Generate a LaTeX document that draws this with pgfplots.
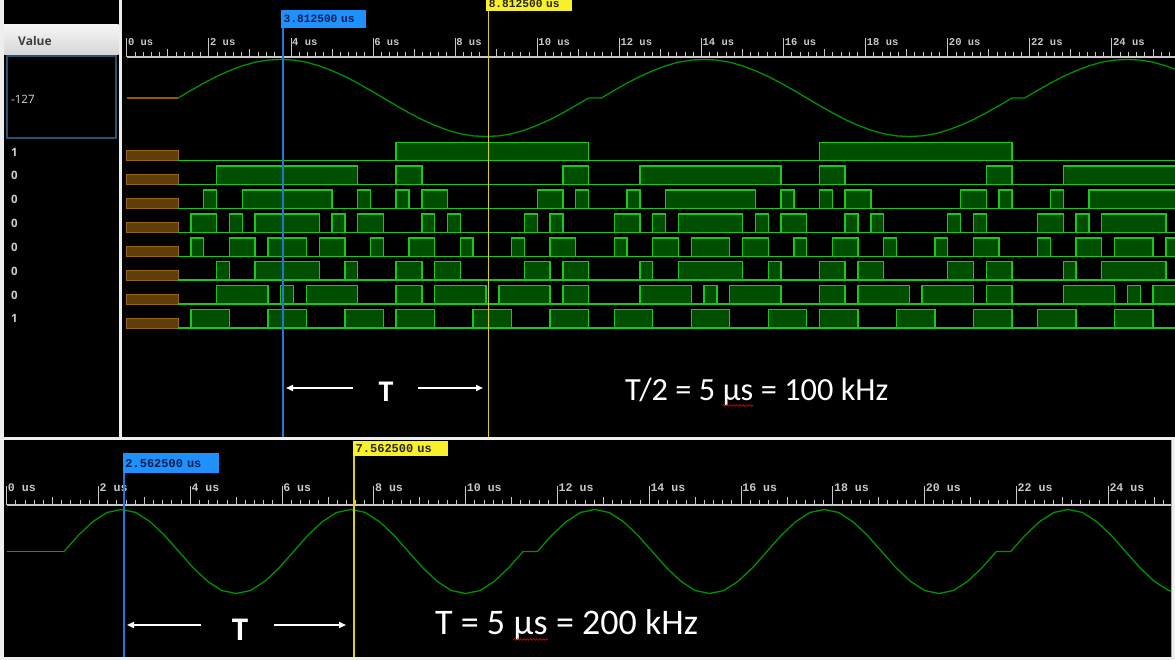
\documentclass[border=0pt]{standalone}
\usepackage{pgfplots}
\pgfplotsset{compat=1.18}
\usepackage{pgfplotstable}
\usepackage{fontspec}
\usetikzlibrary{arrows.meta,decorations.pathmorphing}
\setmainfont{Open Sans}
\newfontfamily\mono{Liberation Mono}
\newfontfamily\slide{Carlito}

\definecolor{traceedge}{RGB}{25,200,25}
\definecolor{tracefill}{RGB}{0,78,0}
\definecolor{analog}{RGB}{0,145,0}
\definecolor{unkfill}{RGB}{95,62,8}
\definecolor{unkedge}{RGB}{150,100,25}
\definecolor{unkline}{RGB}{150,90,10}
\definecolor{curblue}{RGB}{30,120,215}
\definecolor{boxblue}{RGB}{30,145,255}
\definecolor{curyellow}{RGB}{220,210,10}
\definecolor{boxyellow}{RGB}{248,240,40}
\definecolor{ruler}{RGB}{200,200,200}
\definecolor{frame}{RGB}{238,238,238}
\definecolor{valbox}{RGB}{45,80,110}
\definecolor{navytext}{RGB}{0,30,80}

% 8-bit samples of the 100 kHz sine (3.2 MS/s, one sample every 0.3125 us)
% v = signed value, b7..b0 = two's complement bits
\pgfplotstableread{
n v b7 b6 b5 b4 b3 b2 b1 b0
4 0 0 0 0 0 0 0 0 0
5 25 0 0 0 1 1 0 0 1
6 49 0 0 1 1 0 0 0 1
7 71 0 1 0 0 0 1 1 1
8 90 0 1 0 1 1 0 1 0
9 106 0 1 1 0 1 0 1 0
10 118 0 1 1 1 0 1 1 0
11 125 0 1 1 1 1 1 0 1
12 127 0 1 1 1 1 1 1 1
13 125 0 1 1 1 1 1 0 1
14 118 0 1 1 1 0 1 1 0
15 106 0 1 1 0 1 0 1 0
16 90 0 1 0 1 1 0 1 0
17 71 0 1 0 0 0 1 1 1
18 49 0 0 1 1 0 0 0 1
19 25 0 0 0 1 1 0 0 1
20 0 0 0 0 0 0 0 0 0
21 -25 1 1 1 0 0 1 1 1
22 -49 1 1 0 0 1 1 1 1
23 -71 1 0 1 1 1 0 0 1
24 -90 1 0 1 0 0 1 1 0
25 -106 1 0 0 1 0 1 1 0
26 -118 1 0 0 0 1 0 1 0
27 -125 1 0 0 0 0 0 1 1
28 -127 1 0 0 0 0 0 0 1
29 -125 1 0 0 0 0 0 1 1
30 -118 1 0 0 0 1 0 1 0
31 -106 1 0 0 1 0 1 1 0
32 -90 1 0 1 0 0 1 1 0
33 -71 1 0 1 1 1 0 0 1
34 -49 1 1 0 0 1 1 1 1
35 -25 1 1 1 0 0 1 1 1
36 0 0 0 0 0 0 0 0 0
37 0 0 0 0 0 0 0 0 0
38 25 0 0 0 1 1 0 0 1
39 49 0 0 1 1 0 0 0 1
40 71 0 1 0 0 0 1 1 1
41 90 0 1 0 1 1 0 1 0
42 106 0 1 1 0 1 0 1 0
43 118 0 1 1 1 0 1 1 0
44 125 0 1 1 1 1 1 0 1
45 127 0 1 1 1 1 1 1 1
46 125 0 1 1 1 1 1 0 1
47 118 0 1 1 1 0 1 1 0
48 106 0 1 1 0 1 0 1 0
49 90 0 1 0 1 1 0 1 0
50 71 0 1 0 0 0 1 1 1
51 49 0 0 1 1 0 0 0 1
52 25 0 0 0 1 1 0 0 1
53 0 0 0 0 0 0 0 0 0
54 -25 1 1 1 0 0 1 1 1
55 -49 1 1 0 0 1 1 1 1
56 -71 1 0 1 1 1 0 0 1
57 -90 1 0 1 0 0 1 1 0
58 -106 1 0 0 1 0 1 1 0
59 -118 1 0 0 0 1 0 1 0
60 -125 1 0 0 0 0 0 1 1
61 -127 1 0 0 0 0 0 0 1
62 -125 1 0 0 0 0 0 1 1
63 -118 1 0 0 0 1 0 1 0
64 -106 1 0 0 1 0 1 1 0
65 -90 1 0 1 0 0 1 1 0
66 -71 1 0 1 1 1 0 0 1
67 -49 1 1 0 0 1 1 1 1
68 -25 1 1 1 0 0 1 1 1
69 0 0 0 0 0 0 0 0 0
70 0 0 0 0 0 0 0 0 0
71 25 0 0 0 1 1 0 0 1
72 49 0 0 1 1 0 0 0 1
73 71 0 1 0 0 0 1 1 1
74 90 0 1 0 1 1 0 1 0
75 106 0 1 1 0 1 0 1 0
76 118 0 1 1 1 0 1 1 0
77 125 0 1 1 1 1 1 0 1
78 127 0 1 1 1 1 1 1 1
79 125 0 1 1 1 1 1 0 1
80 118 0 1 1 1 0 1 1 0
81 106 0 1 1 0 1 0 1 0
82 90 0 1 0 1 1 0 1 0
}\topdata

% 200 kHz capture, same sample clock
\pgfplotstableread{
n v
4 0
5 49
6 90
7 118
8 127
9 118
10 90
11 49
12 0
13 -49
14 -90
15 -118
16 -127
17 -118
18 -90
19 -49
20 0
21 49
22 90
23 118
24 127
25 118
26 90
27 49
28 0
29 -49
30 -90
31 -118
32 -127
33 -118
34 -90
35 -49
36 0
37 0
38 49
39 90
40 118
41 127
42 118
43 90
44 49
45 0
46 -49
47 -90
48 -118
49 -127
50 -118
51 -90
52 -49
53 0
54 49
55 90
56 118
57 127
58 118
59 90
60 49
61 0
62 -49
63 -90
64 -118
65 -127
66 -118
67 -90
68 -49
69 0
70 0
71 49
72 90
73 118
74 127
75 118
76 90
77 49
78 0
79 -49
80 -90
81 -118
82 -127
}\botdata

\pgfplotsset{
  trace/.style={scale only axis, hide axis, clip=false, width=1053pt, height=18.4pt,
    xmin=-0.117, xmax=25.535, ymin=0, ymax=1, anchor=south west},
  bit/.style={const plot, draw=traceedge, fill=tracefill, line width=1.4pt, line join=miter},
  unk/.style={fill=unkfill, draw=unkedge, line width=0.9pt},
  rulerax/.style={scale only axis, anchor=south west, height=30pt, ymin=0, ymax=1,
    axis x line*=bottom, axis y line=none,
    x axis line style={draw=ruler, line width=1.2pt},
    tick align=inside, tick style={draw=ruler, line width=1pt},
    major tick length=19pt,
    xtick={0,2,...,24},
    xticklabels={0 us,2 us,4 us,6 us,8 us,10 us,12 us,14 us,16 us,18 us,20 us,22 us,24 us},
    minor xtick={0,0.2,...,25.6},
    extra x ticks={1,3,...,25}, extra x tick labels={},
    xticklabel style={anchor=base west, inner sep=0.6pt, xshift=0.4pt, text=ruler}},
}
\tikzset{cursorbox/.style={inner xsep=2.5pt, inner ysep=0pt, align=left}}

\newcommand\slidefont[1]{\slide\fontsize{#1}{#1}\selectfont}
\newcommand\rulerfont[1]{\mono\bfseries\fontsize{#1}{#1}\selectfont}

\begin{document}
\begin{tikzpicture}[x=1pt,y=1pt]
\useasboundingbox (0,0) rectangle (1175,660);
% screen frames
\fill[frame] (0,0) rectangle (1175,660);
\fill[black] (4,222.5) rectangle (1175,660);
\fill[black] (4,3) rectangle (1171,219.5);
\draw[black!35, line width=0.8pt] (1171.4,3) -- (1171.4,219.5);
\fill[frame] (118.5,222.5) rectangle (122,660);

% value column
\shade[top color=white!96!black, bottom color=white!84!black] (4,605) rectangle (118.5,635);
\node[anchor=base west, inner sep=0, font=\bfseries\fontsize{12}{14}\selectfont, text=black!76]
  at (18,614.5) {Value};
\draw[valbox, line width=1.2pt] (7,522) rectangle (116,604);
\node[anchor=base west, inner sep=0, font=\fontsize{11.5}{13}\selectfont, text=white!85!black]
  at (11,556.7) {-127};
\foreach \v/\yy in {1/503.5, 0/480, 0/456.5, 0/432.5, 0/408.5, 0/384.5, 0/360.5, 1/337.5}
  \node[anchor=base west, inner sep=0, font=\bfseries\fontsize{11.5}{13}\selectfont, text=white!80!black]
    at (11,\yy) {\v};

% top time ruler
\begin{axis}[rulerax, at={(126.8pt,603pt)}, width=1048.2pt, xmin=0, xmax=25.535,
  minor tick length=4.5pt, extra x tick style={major tick length=7.5pt},
  xticklabel style={yshift=11.5pt, font=\rulerfont{10.5}}]
  \addplot[draw=none] coordinates {(0,0)};
\end{axis}

% analog view of the samples (100 kHz)
\begin{axis}[scale only axis, hide axis, at={(122pt,504pt)}, anchor=south west,
  width=1053pt, height=116pt, xmin=-0.117, xmax=25.535, ymin=-191.3, ymax=191.3]
  \addplot[unkline, line width=1.2pt] coordinates {(0,0) (1.25,0)};
  \addplot[analog, line width=1.3pt, line join=round] table[x expr=\thisrow{n}*0.3125, y=v] {\topdata};
\end{axis}

% bit lanes, MSB on top
\begin{axis}[trace, at={(122pt,499.3pt)}]
  \addplot[unk] coordinates {(0,0.53) (1.25,0.53)} \closedcycle;
  \addplot[bit] table[x expr=\thisrow{n}*0.3125, y=b7] {\topdata} \closedcycle;
\end{axis}
\begin{axis}[trace, at={(122pt,475.4pt)}]
  \addplot[unk] coordinates {(0,0.53) (1.25,0.53)} \closedcycle;
  \addplot[bit] table[x expr=\thisrow{n}*0.3125, y=b6] {\topdata} \closedcycle;
\end{axis}
\begin{axis}[trace, at={(122pt,451.5pt)}]
  \addplot[unk] coordinates {(0,0.53) (1.25,0.53)} \closedcycle;
  \addplot[bit] table[x expr=\thisrow{n}*0.3125, y=b5] {\topdata} \closedcycle;
\end{axis}
\begin{axis}[trace, at={(122pt,427.6pt)}]
  \addplot[unk] coordinates {(0,0.53) (1.25,0.53)} \closedcycle;
  \addplot[bit] table[x expr=\thisrow{n}*0.3125, y=b4] {\topdata} \closedcycle;
\end{axis}
\begin{axis}[trace, at={(122pt,403.7pt)}]
  \addplot[unk] coordinates {(0,0.53) (1.25,0.53)} \closedcycle;
  \addplot[bit] table[x expr=\thisrow{n}*0.3125, y=b3] {\topdata} \closedcycle;
\end{axis}
\begin{axis}[trace, at={(122pt,379.8pt)}]
  \addplot[unk] coordinates {(0,0.53) (1.25,0.53)} \closedcycle;
  \addplot[bit] table[x expr=\thisrow{n}*0.3125, y=b2] {\topdata} \closedcycle;
\end{axis}
\begin{axis}[trace, at={(122pt,355.9pt)}]
  \addplot[unk] coordinates {(0,0.53) (1.25,0.53)} \closedcycle;
  \addplot[bit] table[x expr=\thisrow{n}*0.3125, y=b1] {\topdata} \closedcycle;
\end{axis}
\begin{axis}[trace, at={(122pt,332.0pt)}]
  \addplot[unk] coordinates {(0,0.53) (1.25,0.53)} \closedcycle;
  \addplot[bit] table[x expr=\thisrow{n}*0.3125, y=b0] {\topdata} \closedcycle;
\end{axis}

% cursors, top capture
\begin{axis}[scale only axis, hide axis, clip=false, at={(122pt,222.5pt)}, anchor=south west,
  width=1053pt, height=437.5pt, xmin=-0.117, xmax=25.535, ymin=0, ymax=437.5, y dir=reverse]
  \addplot[curblue, line width=1.8pt] coordinates {(3.8125,28) (3.8125,437.5)};
  \addplot[curyellow, line width=1.8pt] coordinates {(8.8125,11) (8.8125,437.5)};
  \node[cursorbox, fill=boxblue, anchor=north west, xshift=-2.3pt, minimum height=18pt,
    text width=80pt, text=navytext, font=\rulerfont{11.2}] at (axis cs:3.8125,10) {3.812500 us};
  \node[cursorbox, fill=boxyellow, anchor=south west, xshift=-2.5pt, minimum height=13pt,
    text width=80.5pt, text=black!85, font=\rulerfont{11.2}] at (axis cs:8.8125,11) {8.812500 us};
\end{axis}

% bottom time ruler
\begin{axis}[rulerax, at={(6.7pt,155pt)}, width=1164.3pt, xmin=0, xmax=25.366,
  minor tick length=5pt, extra x tick style={major tick length=8pt},
  xticklabel style={yshift=13pt, font=\rulerfont{11.6}}]
  \addplot[draw=none] coordinates {(0,0)};
\end{axis}

% analog view, 200 kHz
\begin{axis}[scale only axis, hide axis, at={(4pt,48.5pt)}, anchor=south west,
  width=1167pt, height=120pt, xmin=-0.0588, xmax=25.366, ymin=-181.4, ymax=181.4]
  \addplot[unkline, line width=1.2pt] coordinates {(0,0) (1.25,0)};
  \addplot[analog, line width=1.3pt, line join=round] table[x expr=\thisrow{n}*0.3125, y=v] {\botdata};
\end{axis}

% cursors, bottom capture
\begin{axis}[scale only axis, hide axis, clip=false, at={(4pt,3pt)}, anchor=south west,
  width=1167pt, height=216.5pt, xmin=-0.0588, xmax=25.366, ymin=440.5, ymax=657, y dir=reverse]
  \addplot[curblue, line width=1.8pt] coordinates {(2.5625,473) (2.5625,657)};
  \addplot[curyellow, line width=1.8pt] coordinates {(7.5625,456) (7.5625,657)};
  \node[cursorbox, fill=boxblue, anchor=north west, xshift=-1.6pt, minimum height=20pt,
    text width=90.6pt, text=navytext, font=\rulerfont{12}] at (axis cs:2.5625,453) {2.562500 us};
  \node[cursorbox, fill=boxyellow, anchor=north west, xshift=-0.8pt, minimum height=15.5pt,
    text width=90pt, text=black!85, font=\rulerfont{12}] at (axis cs:7.5625,440.5) {7.562500 us};
\end{axis}

% annotations
\tikzset{tarrow/.style={white, line width=1.6pt, -{Triangle[length=7pt,width=6pt]}},
  squig/.style={red!85!black, line width=0.7pt, decorate,
    decoration={snake, amplitude=0.8pt, segment length=3.2pt}}}
\draw[tarrow] (353,272) -- (286,272);
\draw[tarrow] (418,272) -- (483,272);
\node[anchor=base, inner sep=0, text=white, font=\slidefont{30}\bfseries] at (386,258) {T};
\node[anchor=base west, inner sep=0, text=white, font=\slidefont{32.3}] (ta) at (625,259) {T/2 = 5\ \mbox{}};
\node[anchor=base west, inner sep=0, text=white, font=\slidefont{32.3}] (tb) at (ta.base east) {µs};
\node[anchor=base west, inner sep=0, text=white, font=\slidefont{32.3}] at (tb.base east) {\mbox{}\ = 100 kHz};
\draw[squig] ([yshift=-4.5pt]tb.base west) -- ([yshift=-4.5pt]tb.base east);

\draw[tarrow] (201,35) -- (127,35);
\draw[tarrow] (274,35) -- (346,35);
\node[anchor=base, inner sep=0, text=white, font=\slidefont{33}\bfseries] at (240,19) {T};
\node[anchor=base west, inner sep=0, text=white, font=\slidefont{36}] (ba) at (435,25) {T = 5\ \mbox{}};
\node[anchor=base west, inner sep=0, text=white, font=\slidefont{36}] (bb) at (ba.base east) {µs};
\node[anchor=base west, inner sep=0, text=white, font=\slidefont{36}] at (bb.base east) {\mbox{}\ = 200 kHz};
\draw[squig] ([yshift=-4.5pt]bb.base west) -- ([yshift=-4.5pt]bb.base east);
\end{tikzpicture}
\end{document}
